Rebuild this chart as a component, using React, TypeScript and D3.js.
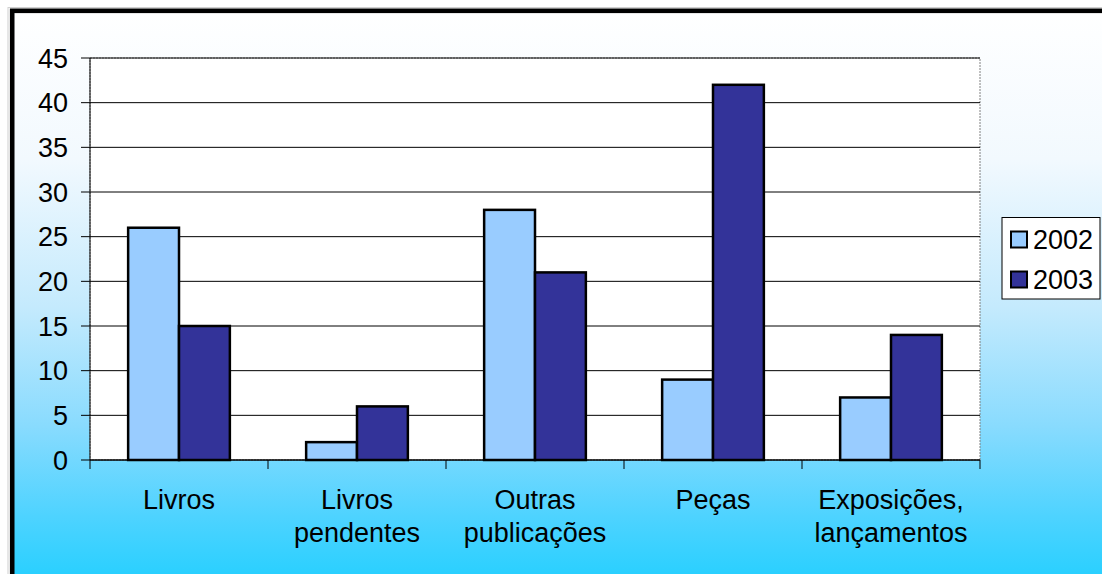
import React from "react";
import * as d3 from "d3";

// Publication counts by category, 2002 vs 2003
const categories: string[][] = [
  ["Livros"],
  ["Livros", "pendentes"],
  ["Outras", "publicações"],
  ["Peças"],
  ["Exposições,", "lançamentos"],
];
const seriesNames = ["2002", "2003"];
const values2002 = [26, 2, 28, 9, 7];
const values2003 = [15, 6, 21, 42, 14];
const yTicks = [0, 5, 10, 15, 20, 25, 30, 35, 40, 45];

const W = 1102;
const H = 574;
const FONT = "'Liberation Sans', Arial, Helvetica, sans-serif";
const FS = 27;
const COLORS = ["#99ccff", "#333399"];

const plot = { left: 90, right: 980, top: 58, bottom: 460 };

export default function App() {
  const catKeys = categories.map((c) => c.join(" "));
  const x = d3.scaleBand<string>().domain(catKeys).range([plot.left, plot.right]).padding(0);
  const xs = d3
    .scaleBand<string>()
    .domain(seriesNames)
    .range([0, x.bandwidth()])
    .paddingInner(0)
    .paddingOuter(0.75);
  const y = d3.scaleLinear().domain([0, 45]).range([plot.bottom, plot.top]);

  const seriesValues = [values2002, values2003];
  const boundaries = d3.range(catKeys.length + 1).map((i) =>
    i < catKeys.length ? (x(catKeys[i]) as number) : plot.right
  );

  return (
    <svg
      width={W}
      height={H}
      style={{ position: "absolute", left: 0, top: 0, display: "block" }}
      fontFamily={FONT}
    >
      <defs>
        <linearGradient id="bg" x1="0" y1="0" x2="0" y2="1">
          <stop offset="0" stopColor="#ffffff" />
          <stop offset="0.25" stopColor="#f2f9fe" />
          <stop offset="0.5" stopColor="#c4eafd" />
          <stop offset="0.7" stopColor="#88dbfe" />
          <stop offset="0.85" stopColor="#4ed3ff" />
          <stop offset="1" stopColor="#18ceff" />
        </linearGradient>
      </defs>
      <rect x={0} y={0} width={W} height={H} fill="#ffffff" />
      {/* chart area with gradient fill */}
      <rect x={12} y={11} width={W + 20} height={H + 20} fill="url(#bg)" />
      <rect x={8} y={7.5} width={W + 20} height={H + 20} fill="none" stroke="#d0d0d0" strokeWidth={1} />
      <rect x={12.2} y={10.8} width={W + 20} height={H + 20} fill="none" stroke="#000" strokeWidth={4.6} />

      {/* plot area */}
      <rect
        x={plot.left}
        y={plot.top}
        width={plot.right - plot.left}
        height={plot.bottom - plot.top}
        fill="#ffffff"
        stroke="#808080"
        strokeWidth={1}
        strokeDasharray="2 1"
      />

      {/* gridlines */}
      {yTicks
        .filter((t) => t > 0)
        .map((t) => (
          <line
            key={`g${t}`}
            x1={plot.left}
            x2={plot.right}
            y1={y(t)}
            y2={y(t)}
            stroke="#000"
            strokeWidth={1}
          />
        ))}

      {/* bars */}
      {catKeys.map((c, i) =>
        seriesNames.map((s, j) => {
          const v = seriesValues[j][i];
          const bx = (x(c) as number) + (xs(s) as number);
          return (
            <rect
              key={`${c}-${s}`}
              x={bx}
              y={y(v)}
              width={xs.bandwidth()}
              height={y(0) - y(v)}
              fill={COLORS[j]}
              stroke="#000"
              strokeWidth={2.5}
            />
          );
        })
      )}

      {/* axes */}
      <line x1={plot.left} x2={plot.left} y1={plot.top} y2={plot.bottom} stroke="#000" strokeWidth={1} />
      <line x1={plot.left} x2={plot.right} y1={plot.bottom} y2={plot.bottom} stroke="#000" strokeWidth={1.5} />
      {yTicks.map((t) => (
        <g key={`yt${t}`}>
          <line x1={plot.left - 9} x2={plot.left} y1={y(t)} y2={y(t)} stroke="#000" strokeWidth={1} />
          <text
            x={plot.left - 22}
            y={y(t)}
            dy="0.36em"
            textAnchor="end"
            fontSize={FS}
            fill="#000"
          >
            {t}
          </text>
        </g>
      ))}
      {boundaries.map((bx, i) => (
        <line key={`xt${i}`} x1={bx} x2={bx} y1={plot.bottom} y2={plot.bottom + 9} stroke="#000" strokeWidth={1} />
      ))}
      {categories.map((lines, i) => {
        const cx = (x(catKeys[i]) as number) + x.bandwidth() / 2;
        return (
          <text key={`cl${i}`} x={cx} y={509} textAnchor="middle" fontSize={FS} fill="#000">
            {lines.map((ln, k) => (
              <tspan key={k} x={cx} y={509 + k * 33}>
                {ln}
              </tspan>
            ))}
          </text>
        );
      })}

      {/* legend */}
      <rect x={1002} y={217.5} width={98} height={81.5} fill="#ffffff" stroke="#000" strokeWidth={1} />
      {seriesNames.map((s, j) => {
        const cy = 239.5 + j * 40;
        return (
          <g key={`lg${s}`}>
            <rect x={1011} y={cy - 8} width={16} height={16} fill={COLORS[j]} stroke="#000" strokeWidth={2} />
            <text x={1033} y={cy} dy="0.36em" fontSize={FS} fill="#000">
              {s}
            </text>
          </g>
        );
      })}
    </svg>
  );
}
